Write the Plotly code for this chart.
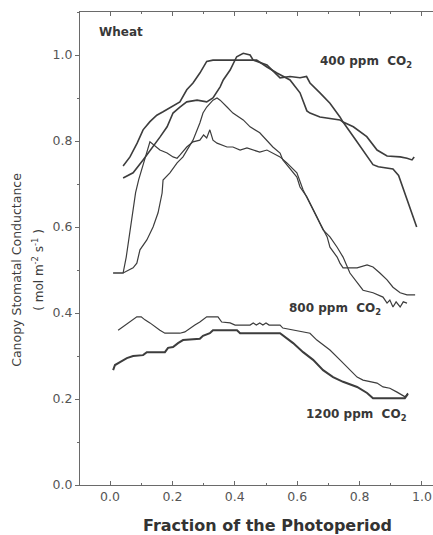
import plotly.graph_objects as go

# Canopy stomatal conductance of wheat over the photoperiod at three CO2 levels
# 400 ppm CO2 (two canopies)
x400_a = [0.042, 0.064, 0.087, 0.106, 0.128, 0.150, 0.170, 0.192, 0.224, 0.246, 0.266, 0.288,
          0.310, 0.330, 0.400, 0.470, 0.503, 0.535, 0.577, 0.609, 0.631, 0.641, 0.673, 0.737,
          0.747, 0.780, 0.823, 0.856, 0.888, 0.930, 0.952, 0.968, 0.975]
y400_a = [0.742, 0.763, 0.795, 0.826, 0.845, 0.860, 0.868, 0.877, 0.891, 0.919, 0.935, 0.958,
          0.985, 0.988, 0.988, 0.988, 0.972, 0.958, 0.942, 0.912, 0.870, 0.865, 0.856, 0.849,
          0.844, 0.833, 0.810, 0.779, 0.765, 0.763, 0.760, 0.756, 0.763]
x400_b = [0.042, 0.074, 0.106, 0.138, 0.160, 0.183, 0.202, 0.224, 0.246, 0.279, 0.310, 0.330,
          0.353, 0.363, 0.385, 0.406, 0.427, 0.449, 0.459, 0.503, 0.545, 0.577, 0.609, 0.630,
          0.641, 0.673, 0.705, 0.737, 0.747, 0.790, 0.820, 0.843, 0.860, 0.907, 0.925, 0.940,
          0.960, 0.983]
y400_b = [0.714, 0.726, 0.756, 0.786, 0.809, 0.833, 0.865, 0.879, 0.891, 0.895, 0.891, 0.900,
          0.926, 0.942, 0.965, 0.996, 1.004, 1.000, 0.988, 0.977, 0.947, 0.950, 0.947, 0.950,
          0.935, 0.912, 0.888, 0.856, 0.844, 0.800, 0.770, 0.745, 0.740, 0.735, 0.720, 0.690,
          0.650, 0.600]

# 800 ppm CO2 (two canopies)
x800_a = [0.010, 0.042, 0.052, 0.062, 0.072, 0.082, 0.092, 0.104, 0.116, 0.128, 0.160, 0.183,
          0.202, 0.215, 0.224, 0.246, 0.266, 0.288, 0.300, 0.310, 0.320, 0.330, 0.343, 0.375,
          0.394, 0.417, 0.439, 0.459, 0.480, 0.503, 0.522, 0.545, 0.567, 0.599, 0.619, 0.641,
          0.663, 0.683, 0.705, 0.728, 0.747, 0.769, 0.792, 0.811, 0.843, 0.875, 0.888, 0.897,
          0.907, 0.917, 0.930, 0.940, 0.952]
y800_a = [0.493, 0.493, 0.530, 0.580, 0.630, 0.680, 0.710, 0.740, 0.770, 0.798, 0.779, 0.772,
          0.763, 0.760, 0.767, 0.786, 0.798, 0.802, 0.814, 0.807, 0.826, 0.802, 0.795, 0.786,
          0.786, 0.779, 0.784, 0.779, 0.774, 0.779, 0.772, 0.763, 0.749, 0.726, 0.686, 0.656,
          0.623, 0.593, 0.577, 0.553, 0.530, 0.493, 0.470, 0.453, 0.447, 0.437, 0.423, 0.430,
          0.414, 0.426, 0.414, 0.426, 0.423]
x800_b = [0.010, 0.042, 0.074, 0.086, 0.096, 0.118, 0.138, 0.154, 0.167, 0.170, 0.192, 0.215,
          0.234, 0.266, 0.288, 0.298, 0.310, 0.330, 0.343, 0.353, 0.375, 0.394, 0.427, 0.449,
          0.480, 0.503, 0.522, 0.545, 0.554, 0.599, 0.609, 0.631, 0.651, 0.673, 0.696, 0.705,
          0.728, 0.737, 0.747, 0.792, 0.824, 0.843, 0.865, 0.888, 0.907, 0.930, 0.952, 0.978]
y800_b = [0.493, 0.493, 0.505, 0.516, 0.547, 0.570, 0.600, 0.633, 0.679, 0.709, 0.726, 0.749,
          0.763, 0.802, 0.842, 0.865, 0.879, 0.895, 0.900, 0.895, 0.879, 0.865, 0.849, 0.833,
          0.819, 0.802, 0.786, 0.772, 0.756, 0.716, 0.693, 0.670, 0.640, 0.609, 0.577, 0.553,
          0.530, 0.516, 0.505, 0.505, 0.512, 0.507, 0.493, 0.477, 0.460, 0.447, 0.442, 0.442]

# 1200 ppm CO2 (two canopies)
x1200_a = [0.026, 0.042, 0.058, 0.074, 0.086, 0.100, 0.112, 0.128, 0.144, 0.160, 0.176, 0.224,
           0.240, 0.256, 0.272, 0.288, 0.310, 0.346, 0.358, 0.385, 0.401, 0.449, 0.459, 0.469,
           0.480, 0.490, 0.500, 0.510, 0.545, 0.554, 0.587, 0.641, 0.663, 0.683, 0.705, 0.737,
           0.769, 0.792, 0.811, 0.856, 0.875, 0.897, 0.920, 0.936, 0.946, 0.955]
y1200_a = [0.360, 0.368, 0.377, 0.384, 0.391, 0.391, 0.384, 0.377, 0.368, 0.360, 0.353, 0.353,
           0.356, 0.365, 0.372, 0.379, 0.391, 0.391, 0.379, 0.377, 0.372, 0.372, 0.377, 0.372,
           0.377, 0.372, 0.377, 0.372, 0.372, 0.365, 0.360, 0.353, 0.337, 0.326, 0.314, 0.291,
           0.267, 0.251, 0.244, 0.237, 0.228, 0.225, 0.216, 0.209, 0.205, 0.214]
x1200_b = [0.010, 0.016, 0.032, 0.054, 0.074, 0.106, 0.118, 0.176, 0.186, 0.202, 0.218, 0.234,
           0.288, 0.298, 0.320, 0.330, 0.407, 0.417, 0.545, 0.567, 0.587, 0.619, 0.651, 0.683,
           0.715, 0.747, 0.792, 0.824, 0.843, 0.930, 0.945, 0.955, 0.948]
y1200_b = [0.267, 0.279, 0.286, 0.295, 0.300, 0.302, 0.309, 0.309, 0.319, 0.321, 0.330, 0.337,
           0.340, 0.347, 0.353, 0.360, 0.360, 0.353, 0.353, 0.342, 0.330, 0.309, 0.291, 0.267,
           0.251, 0.240, 0.228, 0.214, 0.202, 0.202, 0.202, 0.212, 0.205]

x_ticks = [0.0, 0.2, 0.4, 0.6, 0.8, 1.0]
y_ticks = [0.0, 0.2, 0.4, 0.6, 0.8, 1.0]

INK = "#3d3d3d"
FONT = "DejaVu Sans, sans-serif"

series = [
    (x400_a, y400_a, 1.6), (x400_b, y400_b, 1.6),
    (x800_a, y800_a, 1.2), (x800_b, y800_b, 1.2),
    (x1200_a, y1200_a, 1.2), (x1200_b, y1200_b, 2.0),
]

fig = go.Figure()
for xs, ys, w in series:
    fig.add_trace(go.Scatter(x=xs, y=ys, mode="lines",
                             line=dict(color=INK, width=w), showlegend=False,
                             hoverinfo="skip"))

axis_common = dict(showgrid=False, zeroline=False, showline=True, linecolor="#6a6a6a",
                   linewidth=1, ticks="outside", ticklen=4, tickcolor="#6a6a6a",
                   tickfont=dict(family=FONT, size=12.5, color="#555555"), tickformat=".1f")

fig.update_layout(
    width=433, height=535,
    margin=dict(l=80, r=0, t=12, b=50),
    paper_bgcolor="white", plot_bgcolor="white",
    xaxis=dict(range=[-0.0962, 1.0353], tickvals=x_ticks, mirror="ticks",
               minor=dict(dtick=0.1, ticklen=2, tickcolor="#6a6a6a", ticks="inside"),
               **{**axis_common, "ticks": "inside"}),
    yaxis=dict(range=[0, 1.1], tickvals=y_ticks,
               minor=dict(dtick=0.1, ticklen=2, tickcolor="#6a6a6a", ticks="outside"),
               **axis_common),
)

labels = [
    ("<b>Wheat</b>", -0.043, 1.053, "left"),
    ("<b>400 ppm  CO<sub>2</sub></b>", 0.82, 0.984, "center"),
    ("<b>800 ppm  CO<sub>2</sub></b>", 0.72, 0.41, "center"),
    ("<b>1200 ppm  CO<sub>2</sub></b>", 0.79, 0.163, "center"),
]
for text, xv, yv, anchor in labels:
    fig.add_annotation(x=xv, y=yv, xref="x", yref="y", text=text, showarrow=False,
                       xanchor=anchor, yanchor="middle",
                       font=dict(family=FONT, size=12, color="#383838"))

fig.add_annotation(xref="paper", yref="paper", x=0.53, y=0, yshift=-40, xanchor="center",
                   yanchor="middle", showarrow=False, text="<b>Fraction of the Photoperiod</b>",
                   font=dict(family=FONT, size=16, color="#333333"))
fig.add_annotation(xref="paper", yref="paper", x=0, xshift=-63, y=0.455, xanchor="center",
                   yanchor="middle", showarrow=False, textangle=-90,
                   text="Canopy Stomatal Conductance",
                   font=dict(family=FONT, size=12.5, color="#3d3d3d"))
fig.add_annotation(xref="paper", yref="paper", x=0, xshift=-42, y=0.455, xanchor="center",
                   yanchor="middle", showarrow=False, textangle=-90,
                   text="( mol m<sup>-2</sup> s<sup>-1</sup> )",
                   font=dict(family=FONT, size=12, color="#3d3d3d"))

fig.write_html("out.html")
